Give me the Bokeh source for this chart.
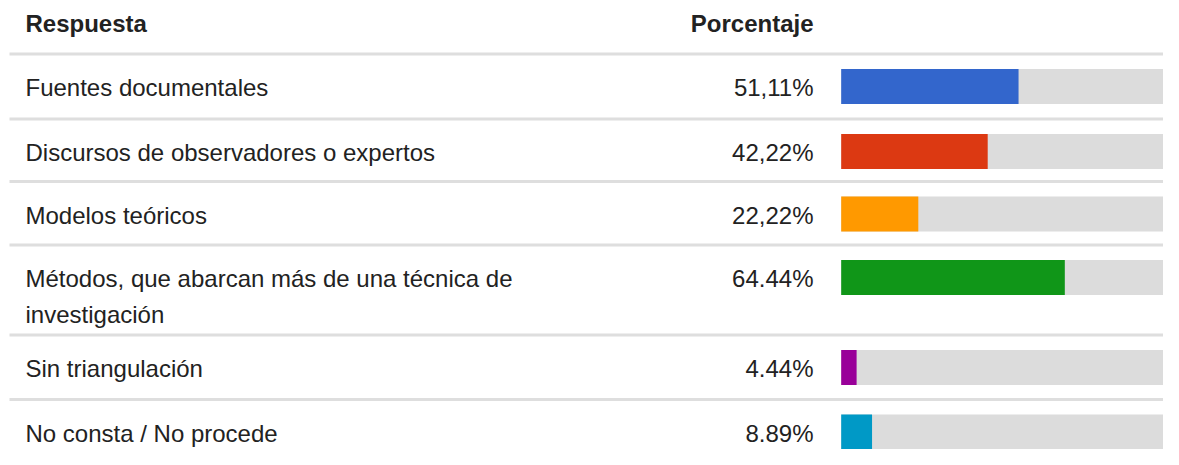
from bokeh.plotting import figure
from bokeh.models import Range1d, ColumnDataSource
from bokeh.core.properties import value
from bokeh.embed import file_html
from bokeh.resources import INLINE

# ---- data ----
respuestas = [
    "Fuentes documentales",
    "Discursos de observadores o expertos",
    "Modelos teóricos",
    "Métodos, que abarcan más de una técnica de\ninvestigación",
    "Sin triangulación",
    "No consta / No procede",
]
porcentajes = [51.11, 42.22, 22.22, 64.44, 4.44, 8.89]
etiquetas = ["51,11%", "42,22%", "22,22%", "64.44%", "4.44%", "8.89%"]
colores = ["#3366CC", "#DC3912", "#FF9900", "#109618", "#990099", "#0099C6"]
encabezados = ["Respuesta", "Porcentaje"]

# ---- layout (pixels) ----
W, H = 1163, 449
PX_PER_PCT = 3.47
BAR_X0 = 840.7           # pixel where 0% sits
LABEL_X = 25
PCT_RIGHT = 813
LINE_X0 = 9
FONT = "Liberation Sans"
FS = "24px"
TEXT_COLOR = "#222222"
TEXT_SHIFT = -7.0        # correction for baseline placement
BAR_H = 35
LINE_GAP = 36

def px(xp):
    return (xp - BAR_X0) / PX_PER_PCT

row_heights = [65, 62.5, 63.5, 90, 64.5, 64]
first_line = 53.5
lines_y = [first_line]
centers = []
for h in row_heights:
    centers.append(lines_y[-1] + 32.5)
    lines_y.append(lines_y[-1] + h)
sep_lines = lines_y[:-1]

p = figure(width=W, height=H, output_backend="svg", toolbar_location=None,
           x_range=Range1d(px(0), px(W)), y_range=Range1d(H, 0),
           min_border=0, outline_line_color=None)
p.axis.visible = False
p.grid.visible = False
p.background_fill_color = "white"
p.border_fill_color = "white"

# separator lines
for yl in sep_lines:
    p.line([px(LINE_X0), px(W)], [yl, yl], line_color="#dedede", line_width=3)

# background bars
p.hbar(y=centers, left=0, right=100, height=BAR_H, fill_color="#dcdcdc", line_color=None)
# value bars
src = ColumnDataSource(dict(y=centers, v=porcentajes, c=colores, t=etiquetas))
p.hbar(y="y", left=0, right="v", height=BAR_H, fill_color="c", line_color=None, source=src)

# headers
hy = 30 + TEXT_SHIFT
p.text(x=[px(LABEL_X)], y=[hy], text=[encabezados[0]], text_font=value(FONT),
       text_font_size=FS, text_font_style="bold", text_color=TEXT_COLOR,
       text_align="left", text_baseline="alphabetic")
p.text(x=[px(PCT_RIGHT)], y=[hy], text=[encabezados[1]], text_font=value(FONT),
       text_font_size=FS, text_font_style="bold", text_color=TEXT_COLOR,
       text_align="right", text_baseline="alphabetic")

# row labels (each line drawn separately)
lx, ly, lt = [], [], []
for c, lab in zip(centers, respuestas):
    for i, part in enumerate(lab.split("\n")):
        lx.append(px(LABEL_X))
        ly.append(c + 8 + TEXT_SHIFT + i * LINE_GAP)
        lt.append(part)
p.text(x=lx, y=ly, text=lt, text_font=value(FONT), text_font_size=FS,
       text_color=TEXT_COLOR, text_align="left", text_baseline="alphabetic")

# percentages
p.text(x=[px(PCT_RIGHT)] * len(centers), y=[c + 8 + TEXT_SHIFT for c in centers],
       text=etiquetas, text_font=value(FONT), text_font_size=FS, text_color=TEXT_COLOR,
       text_align="right", text_baseline="alphabetic")

open("out.html", "w").write(file_html(p, INLINE))
